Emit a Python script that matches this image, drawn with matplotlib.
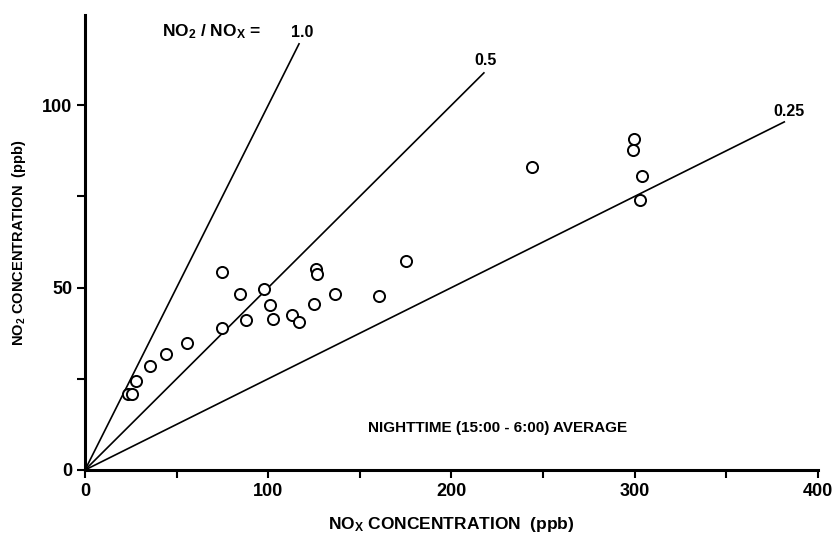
import matplotlib
matplotlib.use("Agg")
import matplotlib.pyplot as plt
import numpy as np

# Data (NOx, NO2) in ppb
nox = [23.6, 25.8, 27.8, 35.6, 44.4, 55.8, 74.8, 74.8, 84.8, 87.7, 97.9, 101.1,
       102.8, 113.1, 116.6, 126.2, 126.6, 124.8, 136.6, 160.4, 175.0,
       244.1, 299.8, 299.2, 303.8, 302.9]
no2 = [20.8, 20.8, 24.3, 28.5, 31.9, 34.8, 54.2, 38.8, 48.1, 41.2, 49.7, 45.3,
       41.3, 42.6, 40.5, 55.0, 53.7, 45.6, 48.3, 47.8, 57.3,
       83.0, 90.7, 87.8, 80.5, 74.0]

ratios = [1.0, 0.5, 0.25]
ratio_labels = ["1.0", "0.5", "0.25"]
ratio_xend = [117, 218, 382]
ratio_label_xy = [(118.4, 120.0), (218.8, 112.3), (384.2, 98.2)]

x_ticks = [0, 100, 200, 300, 400]
y_ticks = [0, 50, 100]

plt.rcParams['mathtext.fontset'] = 'custom'
plt.rcParams['mathtext.rm'] = 'Liberation Sans:bold'
plt.rcParams['mathtext.it'] = 'Liberation Sans:bold'
plt.rcParams['mathtext.bf'] = 'Liberation Sans:bold'

NARROW = ['Liberation Sans Narrow', 'Liberation Sans']
REG = ['Liberation Sans']

fig = plt.figure(figsize=(8.37, 5.37), dpi=100)
ax = fig.add_axes([85/837, 67/537, 733/837, 455/537])

for r, xe in zip(ratios, ratio_xend):
    ax.plot([0, xe], [0, r * xe], color='black', lw=1.2, solid_capstyle='butt')

ax.plot(nox, no2, linestyle='none', marker='o', markersize=8,
        markerfacecolor='white', markeredgecolor='black', markeredgewidth=1.4)

ax.set_xlim(0, 400)
ax.set_ylim(0, 124.7)
ax.spines['top'].set_visible(False)
ax.spines['right'].set_visible(False)
ax.spines['left'].set_linewidth(2.2)
ax.spines['bottom'].set_linewidth(2.2)

ax.set_xticks(x_ticks)
ax.set_yticks(y_ticks)
ax.set_xticks([50, 150, 250, 350], minor=True)
ax.set_yticks([25, 75], minor=True)
ax.tick_params(which='both', direction='out', length=6, width=1.5, color='black')
ax.tick_params(axis='both', which='major', labelsize=13, pad=3)
for lbl in ax.get_xticklabels() + ax.get_yticklabels():
    lbl.set_family(NARROW)
    lbl.set_fontweight('bold')

ax.set_xlabel(r"NO$_\mathrm{X}$ CONCENTRATION  (ppb)", family=NARROW,
              fontweight='bold', fontsize=12.5, labelpad=11)
ax.set_ylabel(r"NO$_\mathrm{2}$ CONCENTRATION  (ppb)", family=REG,
              fontweight='bold', fontsize=10.5, labelpad=10)

ax.text(69.3, 120, r"NO$_\mathrm{2}$ / NO$_\mathrm{X}$ =", family=REG, fontweight='bold',
        fontsize=12.5, ha='center', va='center')
for lab, (lx, ly) in zip(ratio_labels, ratio_label_xy):
    ax.text(lx, ly, lab, family=REG, fontweight='bold', fontsize=11.5,
            ha='center', va='center')
ax.text(225, 11.5, "NIGHTTIME (15:00 - 6:00) AVERAGE", family=REG, fontweight='bold',
        fontsize=11, ha='center', va='center')

fig.savefig("out.png", dpi=100)
